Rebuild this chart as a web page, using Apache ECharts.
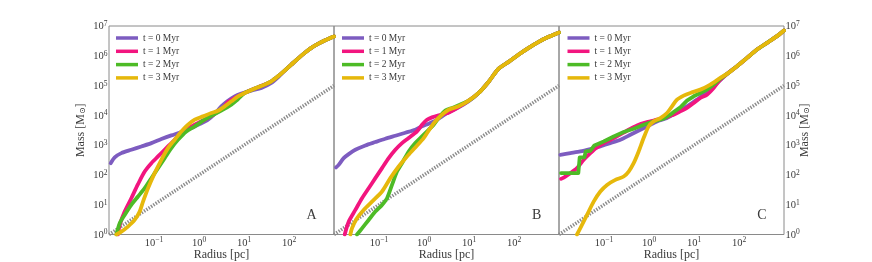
<!DOCTYPE html>
<html>
<head>
<meta charset="utf-8">
<script src="https://cdn.jsdelivr.net/npm/echarts@6/dist/echarts.min.js"></script>
<style>html,body{margin:0;padding:0;background:#fff;}#chart{width:872px;height:262px;}</style>
</head>
<body>
<div id="chart"></div>
<script>
// ---- data: [radius (pc), enclosed mass (Msun)] ----
const seriesNames = ['t = 0 Myr', 't = 1 Myr', 't = 2 Myr', 't = 3 Myr'];
const panelLabels = ['A', 'B', 'C'];
const refLine = [[0.01, 1], [1000, 100000]];

const A_t0 = [[0.0109,248],[0.0134,386],[0.0188,540],[0.0313,698],[0.0524,904],[0.0873,1170],[0.1456,1596],[0.2427,2122],[0.4046,2749],[0.676,3748],[1.035,5110],[1.585,7145],[2.228,11090],[3.133,20090],[4.406,31140],[6.21,43590],[8.73,53600],[14.55,67730],[24.3,83000],[40.5,122500],[57.0,190100],[80.1,318700],[112.7,507000],[158.5,807000],[222.9,1253000],[313.3,1846000],[440.6,2515000],[620.8,3259000],[1000,4450000]];
const A_t1 = [[0.0158,1.0],[0.0173,2.09],[0.0223,5.87],[0.0313,16.5],[0.0441,48.8],[0.0621,130],[0.0873,248],[0.1228,417],[0.188,795],[0.2877,1516],[0.4797,3048],[0.802,4855],[1.336,7145],[2.228,11090],[3.412,17660],[4.406,28110],[6.21,38290],[8.73,49640],[12.27,64280],[17.26,79070],[28.8,107700],[40.5,139400],[57.0,205500],[80.1,318700],[112.7,507000],[158.5,807000],[222.9,1253000],[313.3,1846000],[440.6,2515000],[620.8,3259000],[1000,4450000]];
const A_t2 = [[0.0146,1.0],[0.0173,2.38],[0.0223,4.53],[0.0313,9.84],[0.0441,18.8],[0.0621,35.8],[0.0873,77.8],[0.1228,169],[0.1726,366],[0.2427,795],[0.3412,1516],[0.523,2893],[0.802,4266],[1.336,7145],[2.228,11090],[3.412,15520],[5.23,22860],[6.76,31140],[8.02,40360],[10.35,56490],[14.55,71340],[20.5,87680],[28.8,107700],[40.5,139400],[57.0,205500],[80.1,318700],[112.7,507000],[158.5,807000],[222.9,1253000],[313.3,1846000],[440.6,2515000],[620.8,3259000],[1000,4450000]];
const A_t3 = [[0.0146,1.0],[0.0188,1.245],[0.0264,1.84],[0.0372,3.08],[0.048,5.87],[0.057,12.7],[0.0736,35.8],[0.1035,114.6],[0.1456,322],[0.2047,795],[0.2877,1516],[0.4046,2893],[0.570,4855],[0.802,7145],[1.227,9250],[1.879,11980],[2.642,14350],[3.715,20090],[5.23,29600],[7.36,43590],[10.35,56490],[14.55,71340],[20.5,87680],[28.8,107700],[40.5,139400],[57.0,205500],[80.1,318700],[112.7,507000],[158.5,807000],[222.9,1253000],[313.3,1846000],[440.6,2515000],[620.8,3259000],[1000,4450000]];

const B_t0 = [[0.0111,178],[0.0127,218],[0.0164,366],[0.0212,499],[0.0298,698],[0.0497,977],[0.0829,1270],[0.138,1640],[0.231,2070],[0.385,2610],[0.641,3290],[0.903,4270],[1.27,5240],[1.786,6610],[2.512,9250],[3.532,12900],[5.89,18600],[9.84,29600],[16.41,56500],[27.35,135000],[45.6,370000],[76.0,624000],[127,1100000],[211.9,1850000],[353.2,2940000],[588.8,4330000],[1000,6070000]];
const B_t1 = [[0.0173,1.0],[0.0212,2.7],[0.0298,6.68],[0.0419,16.5],[0.0589,35.8],[0.0829,77.8],[0.1167,169],[0.1641,366],[0.2307,698],[0.3243,1170],[0.4563,1730],[0.698,2890],[0.903,4850],[1.166,7140],[1.506,8570],[2.118,10000],[3.243,11700],[4.56,15100],[5.89,19100],[9.84,31100],[16.41,56500],[27.35,135000],[45.6,370000],[76.0,624000],[127,1100000],[211.9,1850000],[353.2,2940000],[588.8,4330000],[1000,6070000]];
const B_t2 = [[0.0324,1.0],[0.0419,1.61],[0.0589,3.08],[0.0829,5.87],[0.1167,9.84],[0.1507,16.5],[0.1945,46.3],[0.2512,130],[0.3243,248],[0.4563,614],[0.641,1170],[0.903,1960],[1.27,3290],[1.64,4850],[2.118,8130],[2.979,14400],[4.19,17700],[5.89,21700],[9.84,31100],[16.41,56500],[27.35,135000],[45.6,370000],[76.0,624000],[127,1100000],[211.9,1850000],[353.2,2940000],[588.8,4330000],[1000,6070000]];
const B_t3 = [[0.0231,1.0],[0.0251,1.61],[0.0324,3.5],[0.0456,6.68],[0.0698,12.7],[0.1167,27.7],[0.1786,77.8],[0.2735,192],[0.419,417],[0.641,837],[0.983,1730],[1.382,3750],[1.786,6280],[2.512,10500],[3.532,15500],[5.89,20100],[9.84,31100],[16.41,56500],[27.35,135000],[45.6,370000],[76.0,624000],[127,1100000],[211.9,1850000],[353.2,2940000],[588.8,4330000],[1000,6070000]];

const C_t0 = [[0.0107,474],[0.0179,540],[0.0298,614],[0.0497,736],[0.0829,904],[0.138,1170],[0.231,1520],[0.385,2230],[0.641,3290],[1.07,4850],[1.506,6280],[2.512,8130],[4.19,12900],[6.98,20100],[11.67,33700],[19.45,64300],[32.43,122000],[54.1,246000],[90.3,446000],[150.7,851000],[251,1620000],[419,2720000],[698,4560000],[1000,7080000]];
const C_t1 = [[0.0111,73.8],[0.0138,88.5],[0.0179,115],[0.0251,169],[0.0353,322],[0.0497,540],[0.0698,837],[0.1167,1330],[0.1945,1960],[0.3243,3050],[0.541,4610],[0.903,5960],[1.506,7140],[2.118,8130],[3.243,10000],[4.969,13600],[6.98,17700],[9.84,26000],[13.84,38300],[19.45,49600],[27.35,83100],[38.46,159000],[54.1,246000],[90.3,446000],[150.7,851000],[251,1620000],[419,2720000],[698,4560000],[1000,7080000]];
const C_t2 = [[0.0111,115],[0.0269,115],[0.0288,386],[0.0366,386],[0.0392,614],[0.0497,646],[0.061,977],[0.0984,1330],[0.1641,1960],[0.2735,2750],[0.4563,3560],[0.76,4850],[1.27,6280],[2.118,7730],[2.979,10500],[3.532,12900],[4.969,18600],[6.98,31100],[9.84,43600],[13.84,56500],[19.45,73100],[27.35,108000],[38.46,171000],[54.1,246000],[90.3,446000],[150.7,851000],[251,1620000],[419,2720000],[698,4560000],[1000,7080000]];
const C_t3 = [[0.0251,1.0],[0.0324,2.09],[0.0419,4.53],[0.0589,12.7],[0.0829,27.7],[0.1167,46.3],[0.1786,68.4],[0.2735,88.5],[0.3532,130],[0.4563,248],[0.589,614],[0.76,1730],[0.983,4270],[1.27,6280],[1.786,8130],[2.512,12000],[3.243,20100],[4.19,33700],[5.89,45900],[8.29,56500],[13.84,73100],[23.07,108000],[38.46,181000],[54.1,246000],[90.3,446000],[150.7,851000],[251,1620000],[419,2720000],[698,4560000],[1000,7080000]];

const panels = [[A_t0, A_t1, A_t2, A_t3], [B_t0, B_t1, B_t2, B_t3], [C_t0, C_t1, C_t2, C_t3]];

// ---- styling ----
const colors = ['#7d5cc0', '#f2157f', '#4dbb26', '#e6b80b'];
const FONT = 'Liberation Serif';
const TXT = '#3a3a3a';
const gridLefts = [109, 334, 559];
const legendLefts = [116, 342, 567.5];
const letterX = [311.5, 536.7, 762];

const rich = {
  b: { fontSize: 10.5, lineHeight: 12, verticalAlign: 'bottom', fontFamily: FONT, color: TXT },
  s: { fontSize: 7.5, lineHeight: 5, verticalAlign: 'top', fontFamily: FONT, color: TXT }
};
function powLabel(v) {
  const e = Math.round(Math.log10(v));
  return '{b|10}{s|' + (e < 0 ? '\u2212' + (-e) : e) + '}';
}

const grids = [], xAxes = [], yAxes = [], series = [], legends = [], graphics = [];
for (let p = 0; p < 3; p++) {
  grids.push({ left: gridLefts[p], top: 26, width: 225, height: 208.5, show: true,
    borderColor: '#8a8a8a', borderWidth: 1, backgroundColor: 'transparent',
    containLabel: false, outerBoundsMode: 'none' });
  xAxes.push({ type: 'log', logBase: 10, gridIndex: p, min: 0.01, max: 1000,
    axisLine: { show: false }, axisTick: { show: false }, splitLine: { show: false }, minorTick: { show: false },
    axisLabel: { formatter: powLabel, rich: rich, margin: 2, showMinLabel: false, showMaxLabel: false },
    name: 'Radius [pc]', nameLocation: 'middle', nameGap: 14, nameMoveOverlap: false,
    nameTextStyle: { fontFamily: FONT, fontSize: 12, color: TXT, verticalAlign: 'top' } });
  const y = { type: 'log', logBase: 10, gridIndex: p, min: 1, max: 1e7,
    axisLine: { show: false }, axisTick: { show: false }, splitLine: { show: false },
    axisLabel: { show: p !== 1, formatter: powLabel, rich: rich, margin: 1.5 } };
  if (p !== 1) {
    y.name = 'Mass [M{sub|\u2299}]';
    y.nameLocation = 'middle';
    y.nameRotate = 90;
    y.nameGap = p === 0 ? 22 : 14.5;
    if (p === 2) y.nameMoveOverlap = false;
    y.nameTextStyle = { fontFamily: FONT, fontSize: 12, color: TXT,
      rich: { sub: { fontSize: 8, fontFamily: 'DejaVu Serif', color: TXT, verticalAlign: 'bottom', lineHeight: 10 } } };
  }
  if (p === 2) y.position = 'right';
  yAxes.push(y);

  series.push({ type: 'line', name: 'ref', xAxisIndex: p, yAxisIndex: p, data: refLine,
    showSymbol: false, silent: true, z: 1,
    lineStyle: { color: '#8c8c8c', width: 3.5, type: [1.4, 1.4] } });
  for (let s = 0; s < 4; s++) {
    series.push({ type: 'line', name: seriesNames[s], xAxisIndex: p, yAxisIndex: p,
      data: panels[p][s], showSymbol: false, z: 2 + s,
      smooth: (p === 2 && s === 2) ? false : 0.25,
      color: colors[s],
      lineStyle: { color: colors[s], width: 3.8, cap: 'round', join: 'round' } });
  }
  legends.push({ data: seriesNames, left: legendLefts[p], top: 33, orient: 'vertical', padding: 0,
    icon: 'rect', itemWidth: 22, itemHeight: 3.5, itemGap: 3.3,
    textStyle: { fontFamily: FONT, fontSize: 9.5, color: TXT, lineHeight: 10 } });
  graphics.push({ type: 'text', x: letterX[p], y: 215,
    style: { text: panelLabels[p], fontFamily: FONT, fontSize: 14, fill: TXT,
      textAlign: 'center', textVerticalAlign: 'middle' } });
}

const chart = echarts.init(document.getElementById('chart'), null, { renderer: 'canvas' });
chart.setOption({
  animation: false,
  backgroundColor: '#fff',
  grid: grids, xAxis: xAxes, yAxis: yAxes, series: series, legend: legends, graphic: graphics
});
</script>
</body>
</html>
